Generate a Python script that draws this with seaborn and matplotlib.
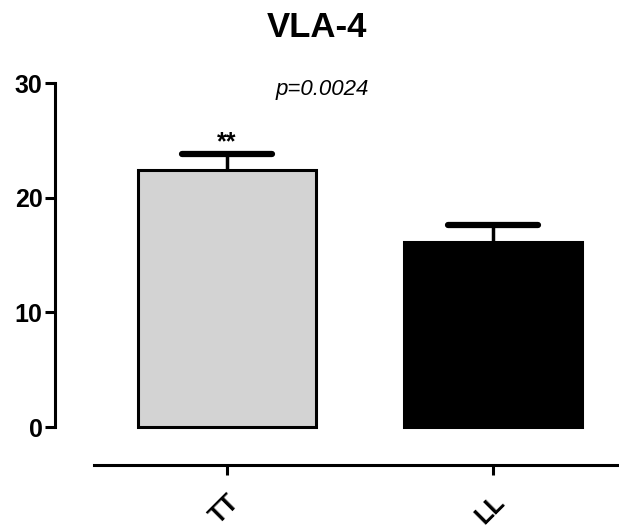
import matplotlib
matplotlib.use("Agg")
import matplotlib.pyplot as plt
import seaborn as sns

# Data
groups = ["TT", "LL"]
means = [22.4, 16.1]
sem = [1.4, 1.5]
bar_colors = ["#d3d3d3", "#000000"]
y_ticks = [0, 10, 20, 30]

sns.set_style("ticks", rc={"axes.edgecolor": "black", "text.color": "black",
                           "xtick.color": "black", "ytick.color": "black",
                           "axes.labelcolor": "black"})
plt.rcParams["font.family"] = ["Liberation Sans", "DejaVu Sans"]

fig = plt.figure(figsize=(6.19, 5.27), dpi=100)
ax = fig.add_axes([0.152, 0.1176, 0.848, 0.7249])

sns.barplot(x=groups, y=means, hue=groups, palette=bar_colors, legend=False,
            width=0.67, edgecolor="black", linewidth=2.2, ax=ax)

# upper error bars only: stem + cap
xpos = list(range(len(groups)))
tops = [m + s for m, s in zip(means, sem)]
ax.vlines(xpos, means, tops, color="black", linewidth=2.5)
ax.hlines(tops, [x - 0.17 for x in xpos], [x + 0.17 for x in xpos],
          color="black", linewidth=4.5, capstyle="round")

ax.set_xlim(-0.5, 1.474)
ax.set_ylim(-3.3, 30)
ax.set_yticks(y_ticks)
ax.set_xticks(xpos)
ax.set_xticklabels(groups, rotation=45, ha="right", va="top",
                   rotation_mode="anchor")

sns.despine(ax=ax)
ax.spines["left"].set_bounds(0, 30)
ax.spines["left"].set_position(("outward", 28))
ax.spines["left"].set_linewidth(2.2)
ax.spines["bottom"].set_linewidth(2.2)
ax.tick_params(axis="both", width=2.2, length=7, labelsize=18, colors="black")
ax.tick_params(axis="y", pad=2)
ax.tick_params(axis="x", pad=11)
for lab in ax.get_xticklabels() + ax.get_yticklabels():
    lab.set_fontweight("bold")

ax.text(0, tops[0] + 0.4, "**", ha="center", va="baseline",
        fontsize=18, fontweight="bold")

fig.text(0.512, 0.947, "VLA-4", ha="center", va="center",
         fontsize=25, fontweight="bold")
fig.text(0.52, 0.831, "p=0.0024", ha="center", va="center",
         fontsize=16, style="italic")

fig.savefig("out.png", dpi=100)
